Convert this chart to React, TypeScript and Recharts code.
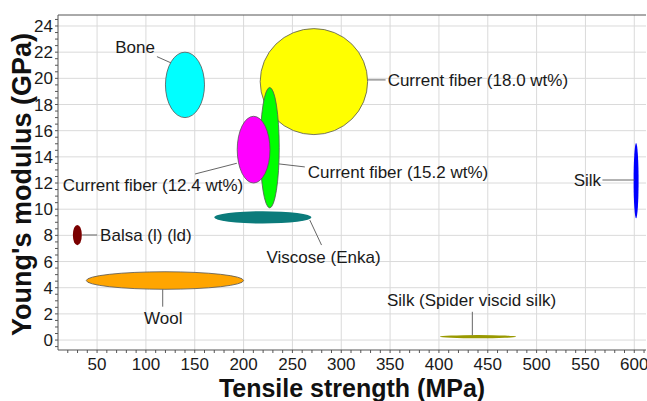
import {
  ScatterChart,
  Scatter,
  XAxis,
  YAxis,
  Label,
  CartesianGrid,
  ReferenceArea,
  ReferenceLine,
} from 'recharts';

// materials, drawn as ellipses spanning strength / modulus ranges
const MATERIALS = [
  'Current fiber (18.0 wt%)',
  'Current fiber (15.2 wt%)',
  'Current fiber (12.4 wt%)',
  'Bone',
  'Viscose (Enka)',
  'Balsa (l) (ld)',
  'Wool',
  'Silk (Spider viscid silk)',
  'Silk',
];
const STRENGTH_LOW = [217, 217, 193.5, 120, 170, 25.2, 39, 401, 599.3];
const STRENGTH_HIGH = [327, 236.5, 227, 160, 269.5, 34.4, 200, 479, 604.4];
const MODULUS_LOW = [15.7, 10.1, 12.0, 17.0, 8.9, 7.25, 3.88, 0.13, 9.3];
const MODULUS_HIGH = [23.8, 19.3, 17.1, 22.0, 9.85, 8.8, 5.22, 0.38, 15.05];

const FILLS: Record<string, string> = {
  'Current fiber (18.0 wt%)': '#ffff00',
  'Current fiber (15.2 wt%)': '#00ff00',
  'Current fiber (12.4 wt%)': '#ff00ff',
  Bone: '#00ffff',
  'Viscose (Enka)': '#0b7b7b',
  'Balsa (l) (ld)': '#7a0000',
  Wool: '#ffa500',
  'Silk (Spider viscid silk)': '#999900',
  Silk: '#0000ff',
};
const OUTLINED = ['Current fiber (18.0 wt%)', 'Current fiber (15.2 wt%)', 'Current fiber (12.4 wt%)', 'Bone', 'Wool'];

// label anchor points (data units) and leader lines
const LABELS = [
  { text: 'Bone', x: 88.9, y: 22.42, anchor: 'middle' },
  { text: 'Current fiber (18.0 wt%)', x: 347.5, y: 19.88, anchor: 'start' },
  { text: 'Current fiber (15.2 wt%)', x: 265.7, y: 12.87, anchor: 'start' },
  { text: 'Current fiber (12.4 wt%)', x: 14.9, y: 11.85, anchor: 'start' },
  { text: 'Silk', x: 566, y: 12.23, anchor: 'end' },
  { text: 'Balsa (l) (ld)', x: 53.1, y: 8.03, anchor: 'start' },
  { text: 'Viscose (Enka)', x: 223.5, y: 6.33, anchor: 'start' },
  { text: 'Wool', x: 117.8, y: 1.66, anchor: 'middle' },
  { text: 'Silk (Spider viscid silk)', x: 433.4, y: 3.06, anchor: 'middle' },
];
const LEADERS = [
  [111.3, 21.66, 125.7, 21.18],
  [327.1, 19.88, 345.4, 19.88],
  [236.2, 13.46, 262.7, 13.23],
  [150.3, 12.69, 193.1, 13.51],
  [567.4, 12.23, 600.1, 12.23],
  [34.7, 8.03, 50, 8.03],
  [267.8, 9.17, 279.8, 7.26],
  [117.2, 3.88, 117.2, 2.55],
  [434.2, 2.16, 434.2, 0.36],
];

const X_DOMAIN = [10, 612];
const Y_DOMAIN = [-0.76, 24.84];
const X_MAJOR = [50, 100, 150, 200, 250, 300, 350, 400, 450, 500, 550, 600];
const Y_MAJOR = [0, 2, 4, 6, 8, 10, 12, 14, 16, 18, 20, 22, 24];
const X_TICKS = [
  20, 30, 40, 50, 60, 70, 80, 90, 100, 110, 120, 130, 140, 150, 160, 170, 180, 190, 200,
  210, 220, 230, 240, 250, 260, 270, 280, 290, 300, 310, 320, 330, 340, 350, 360, 370, 380, 390, 400,
  410, 420, 430, 440, 450, 460, 470, 480, 490, 500, 510, 520, 530, 540, 550, 560, 570, 580, 590, 600, 610,
];
const Y_TICKS = [
  -0.5, 0, 0.5, 1, 1.5, 2, 2.5, 3, 3.5, 4, 4.5, 5, 5.5, 6, 6.5, 7, 7.5, 8, 8.5, 9, 9.5, 10, 10.5, 11, 11.5,
  12, 12.5, 13, 13.5, 14, 14.5, 15, 15.5, 16, 16.5, 17, 17.5, 18, 18.5, 19, 19.5, 20, 20.5, 21, 21.5, 22,
  22.5, 23, 23.5, 24, 24.5,
];

const FONT = "'Liberation Sans', Arial, sans-serif";

const EllipseShape = (props: any) => {
  const { x, y, width, height, fill, stroke } = props;
  return (
    <ellipse
      cx={x + width / 2}
      cy={y + height / 2}
      rx={Math.abs(width) / 2}
      ry={Math.abs(height) / 2}
      fill={fill}
      stroke={stroke}
      strokeWidth={0.8}
    />
  );
};

const LabelShape = (props: any) => {
  const { cx, cy, payload } = props;
  return (
    <text
      x={cx}
      y={cy}
      dy="0.36em"
      textAnchor={payload.anchor}
      fontSize={17}
      fontFamily={FONT}
      fill="#1a1a1a"
    >
      {payload.text}
    </text>
  );
};

export default function App() {
  return (
    <div style={{ position: 'absolute', left: 0, top: 0, background: '#fff' }}>
      <ScatterChart width={647} height={401} margin={{ top: 15, right: 1, bottom: 0, left: 0 }}>
        <CartesianGrid
          stroke="#dadada"
          horizontalValues={Y_MAJOR}
          verticalValues={X_MAJOR}
        />
        <XAxis
          type="number"
          dataKey="x"
          domain={X_DOMAIN}
          allowDataOverflow
          ticks={X_TICKS}
          interval={0}
          tickFormatter={(v: number) => (X_MAJOR.includes(v) ? String(v) : '')}
          tickSize={3}
          tickMargin={5}
          height={51}
          stroke="#555"
          tick={{ fill: '#1a1a1a', fontSize: 17, fontFamily: FONT }}
        >
          <Label
            value="Tensile strength (MPa)"
            position="insideBottom"
            offset={4}
            style={{ fontSize: 25, fontWeight: 'bold', fill: '#111', fontFamily: FONT }}
          />
        </XAxis>
        <YAxis
          type="number"
          dataKey="y"
          domain={Y_DOMAIN}
          allowDataOverflow
          ticks={Y_TICKS}
          interval={0}
          tickFormatter={(v: number) => (Y_MAJOR.includes(v) ? String(v) : '')}
          tickSize={3}
          tickMargin={2}
          width={58}
          stroke="#555"
          tick={{ fill: '#1a1a1a', fontSize: 17, fontFamily: FONT }}
        >
          <Label
            value="Young's modulus (GPa)"
            angle={-90}
            position="center"
            dx={-8}
            dy={2}
            style={{ fontSize: 27, fontWeight: 'bold', fill: '#111', fontFamily: FONT, textAnchor: 'middle' }}
          />
        </YAxis>
        <ReferenceLine y={Y_DOMAIN[1]} stroke="#555" ifOverflow="visible" />
        {MATERIALS.map((m, i) => (
          <ReferenceArea
            key={m}
            x1={STRENGTH_LOW[i]}
            x2={STRENGTH_HIGH[i]}
            y1={MODULUS_LOW[i]}
            y2={MODULUS_HIGH[i]}
            ifOverflow="visible"
            fill={FILLS[m]}
            fillOpacity={1}
            stroke={OUTLINED.includes(m) ? '#555' : 'none'}
            shape={EllipseShape}
          />
        ))}
        {LEADERS.map((s, i) => (
          <ReferenceLine
            key={`lead-${i}`}
            segment={[
              { x: s[0], y: s[1] },
              { x: s[2], y: s[3] },
            ]}
            stroke="#666"
            strokeWidth={1}
            ifOverflow="visible"
          />
        ))}
        <Scatter data={LABELS} shape={LabelShape} isAnimationActive={false} />
      </ScatterChart>
    </div>
  );
}
